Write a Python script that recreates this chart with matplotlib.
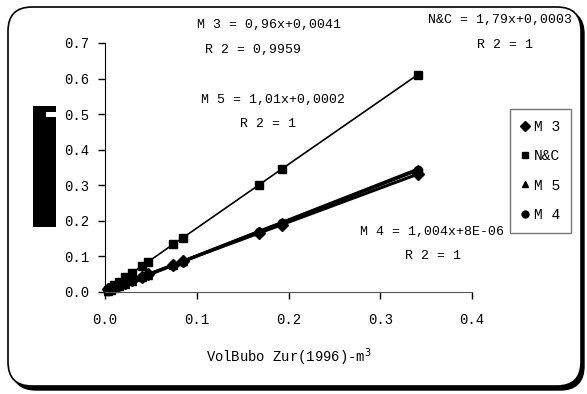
import matplotlib
matplotlib.use("Agg")
import matplotlib.pyplot as plt
from matplotlib.patches import FancyBboxPatch, Rectangle
from matplotlib.transforms import IdentityTransform
from matplotlib.lines import Line2D

# bubo volume (Zur 1996) against the four models
vol = [0.003, 0.006, 0.010, 0.015, 0.022, 0.029, 0.040, 0.047,
       0.074, 0.085, 0.168, 0.193, 0.341]
m3 = [0.007, 0.010, 0.014, 0.019, 0.025, 0.032, 0.042, 0.049,
      0.075, 0.086, 0.165, 0.189, 0.331]
nc = [0.006, 0.011, 0.018, 0.027, 0.040, 0.052, 0.072, 0.084,
      0.133, 0.152, 0.301, 0.346, 0.611]
m5 = [0.003, 0.006, 0.010, 0.015, 0.022, 0.029, 0.041, 0.048,
      0.075, 0.086, 0.170, 0.195, 0.345]
m4 = [0.003, 0.006, 0.010, 0.015, 0.022, 0.029, 0.040, 0.047,
      0.074, 0.085, 0.169, 0.194, 0.342]

series = [("M 3", m3, "D"), ("N&C", nc, "s"), ("M 5", m5, "^"), ("M 4", m4, "o")]

equations = [
    ("M 3 = 0,96x+0,0041", 269, 25), ("R 2 = 0,9959", 253, 50),
    ("M 5 = 1,01x+0,0002", 273, 100), ("R 2 = 1", 268, 124),
    ("N&C = 1,79x+0,0003", 500, 20), ("R 2 = 1", 505, 45),
    ("M 4 = 1,004x+8E-06", 432, 232), ("R 2 = 1", 433, 256),
]

W, H = 587, 394
plt.rcParams['font.family'] = ['Liberation Mono', 'DejaVu Sans']
fig = plt.figure(figsize=(W / 100, H / 100), dpi=100)

# rounded frame with dark drop shadow
shadow = FancyBboxPatch((12, 4), 572, 380, boxstyle="round,pad=0,rounding_size=24",
                        transform=IdentityTransform(), facecolor="black",
                        edgecolor="black", zorder=0)
frame = FancyBboxPatch((8, 8), 573, 379, boxstyle="round,pad=0,rounding_size=24",
                       transform=IdentityTransform(), facecolor="white",
                       edgecolor="black", lw=1.2, zorder=1)
fig.patches.extend([shadow, frame])

# black block where the y label sits
fig.patches.append(Rectangle((33, H - 227), 23, 121, transform=IdentityTransform(),
                             facecolor="black", edgecolor="none", zorder=2))
fig.patches.append(Rectangle((46, H - 117), 10, 5, transform=IdentityTransform(),
                             facecolor="white", edgecolor="none", zorder=3))

ax = fig.add_axes([105 / W, 1 - 291.7 / H, (472 - 105) / W, (291.7 - 43) / H])
ax.set_zorder(5)
ax.set_facecolor("none")
for name, vals, mk in series:
    lw = 1.2 if name == "N&C" else 2.2
    ax.plot(vol, vals, color="black", lw=lw, marker=mk, ms=6, mfc="black", mec="black",
            clip_on=False)

ax.set_xlim(0, 0.4)
ax.set_ylim(0, 0.7)
ax.set_xticks([0, 0.1, 0.2, 0.3, 0.4])
ax.set_xticklabels(["0.0", "0.1", "0.2", "0.3", "0.4"])
ax.set_yticks([0, 0.1, 0.2, 0.3, 0.4, 0.5, 0.6, 0.7])
ax.set_yticklabels(["0.0", "0.1", "0.2", "0.3", "0.4", "0.5", "0.6", "0.7"])
ax.tick_params(labelsize=10, length=5, width=1, colors="black", pad=6)
ax.tick_params(axis="x", pad=10)
ax.spines["top"].set_visible(False)
ax.spines["right"].set_visible(False)
ax.spines["bottom"].set_color("#555555")
ax.set_xlabel("VolBubo Zur(1996)-m$^3$", fontsize=10, labelpad=14)

for txt, x, y in equations:
    fig.text(x / W, 1 - y / H, txt, ha="center", va="center", fontsize=9.5, zorder=6)

handles = [Line2D([], [], color="black", ls="none", marker=mk, ms=5) for _, _, mk in series]
leg = fig.legend(handles, [s[0] for s in series], loc="upper left",
                 bbox_to_anchor=(510 / W, 1 - 109 / H), fontsize=10.5,
                 frameon=True, fancybox=False, handlelength=0.5, handletextpad=0.4,
                 labelspacing=1.05, borderpad=0.75, borderaxespad=0)
leg.set_zorder(7)
leg.get_frame().set_edgecolor("#555555")
leg.get_frame().set_linewidth(1)

fig.savefig("out.png", dpi=100)
